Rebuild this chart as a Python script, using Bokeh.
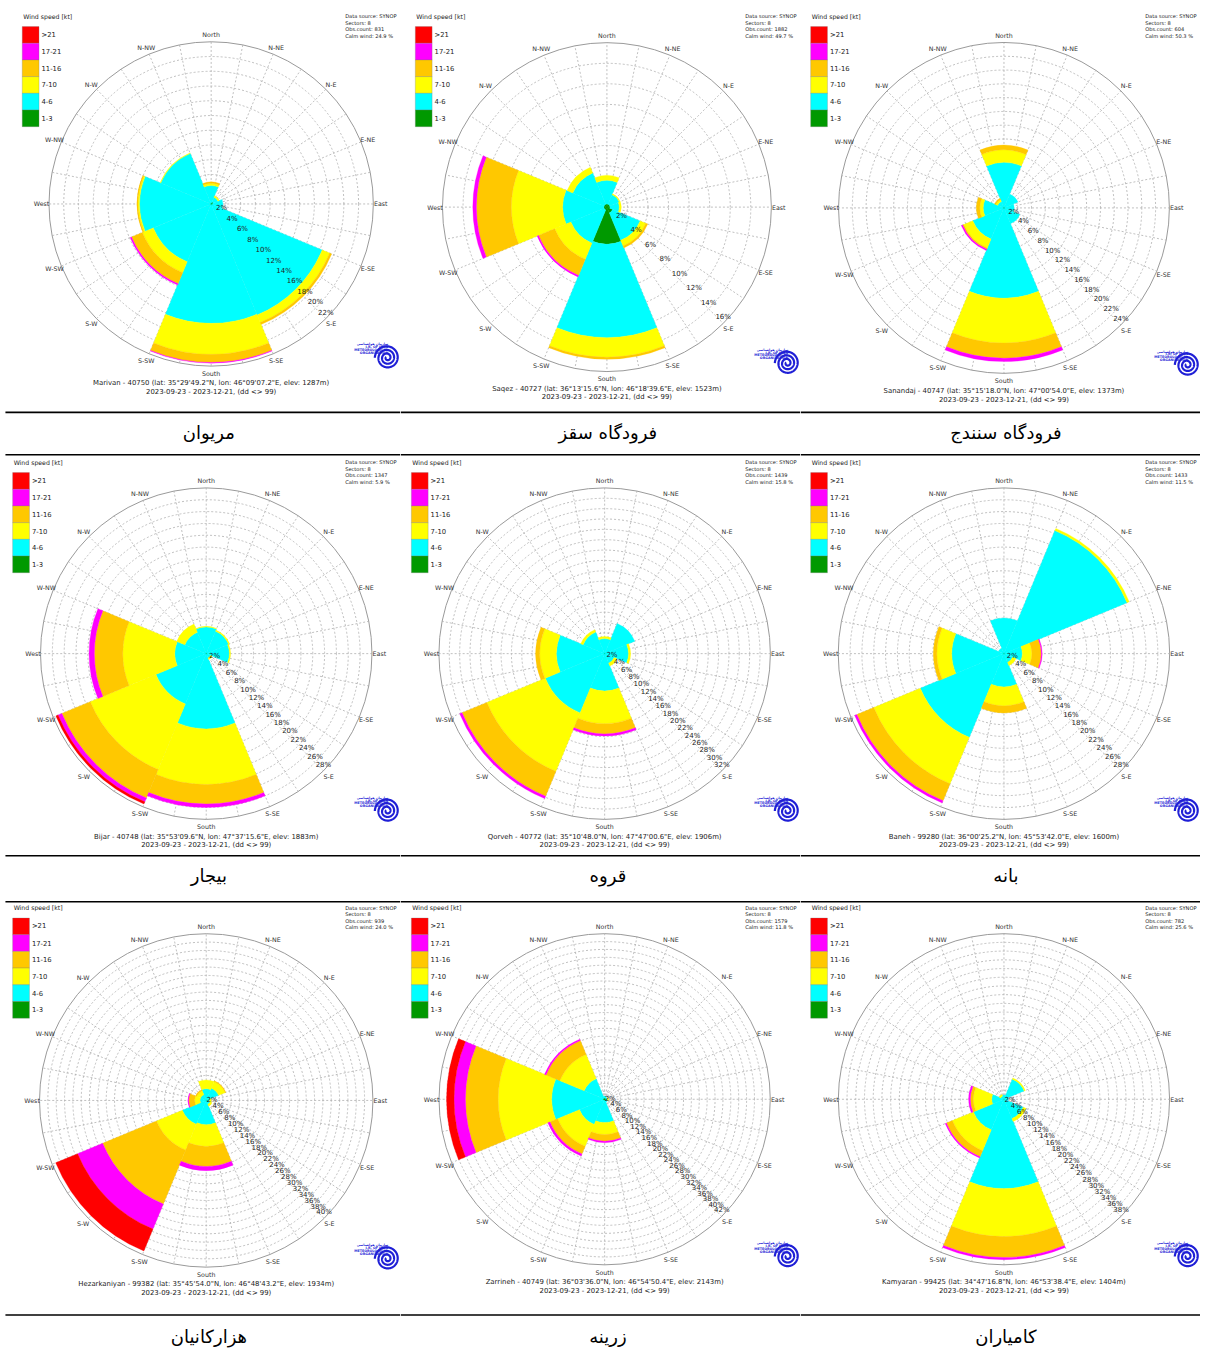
import numpy as np
from bokeh.plotting import figure
from bokeh.layouts import gridplot
from bokeh.models import Range1d, ColumnDataSource
from bokeh.core.properties import value
from bokeh.embed import file_html
from bokeh.resources import INLINE

# ---------------------------------------------------------------- data
SECTORS = ["N", "NE", "E", "SE", "S", "SW", "W", "NW"]
SECTOR_BEARING = [0, 45, 90, 135, 180, 225, 270, 315]
SPEED_CLASSES = ["1-3", "4-6", "7-10", "11-16", "17-21", ">21"]
CLASS_COLORS = ["#009900", "#00ffff", "#ffff00", "#ffc800", "#ff00ff", "#ff0000"]
LEGEND_TEXT = [">21", "17-21", "11-16", "7-10", "4-6", "1-3"]
COMPASS_LABELS = ["North", "N-NE", "N-E", "E-NE", "East", "E-SE", "S-E", "S-SE",
                  "South", "S-SW", "S-W", "W-SW", "West", "W-NW", "N-W", "N-NW"]

# frequency in % ; rows = speed classes (1-3 .. >21), columns = sectors N..NW
MARIVAN = [
    [0.1, 0.3, 0.2, 0.1, 0.1, 0.1, 0.1, 0.1],
    [2.4, 0.7, 1.4, 16.2, 16.1, 8.4, 9.6, 7.3],
    [0.3, 0.2, 0.0, 1.1, 4.2, 1.6, 0.2, 0.1],
    [0.2, 0.0, 0.0, 0.3, 1.1, 1.6, 0.15, 0.0],
    [0.0, 0.0, 0.0, 0.0, 0.1, 0.2, 0.0, 0.0],
    [0.0, 0.0, 0.0, 0.0, 0.0, 0.0, 0.0, 0.0],
]
SAQEZ = [
    [0.3, 0.3, 0.3, 0.6, 3.6, 0.3, 0.3, 0.3],
    [2.3, 1.0, 0.9, 2.9, 9.1, 3.5, 4.0, 3.3],
    [0.5, 0.1, 0.2, 0.6, 1.9, 1.7, 5.0, 0.6],
    [0.0, 0.0, 0.0, 0.2, 0.2, 1.7, 3.4, 0.0],
    [0.0, 0.0, 0.0, 0.0, 0.0, 0.15, 0.35, 0.0],
    [0.0, 0.0, 0.0, 0.0, 0.0, 0.0, 0.0, 0.0],
]
SANANDAJ = [
    [0.1, 0.1, 0.1, 0.1, 0.1, 0.1, 0.1, 0.1],
    [6.5, 2.1, 1.4, 2.4, 13.0, 4.8, 2.9, 0.9],
    [1.8, 0.0, 0.0, 0.0, 6.5, 1.4, 0.5, 0.3],
    [0.7, 0.0, 0.0, 0.0, 2.2, 0.2, 0.5, 0.2],
    [0.0, 0.0, 0.0, 0.0, 0.5, 0.2, 0.0, 0.0],
    [0.0, 0.0, 0.0, 0.0, 0.0, 0.0, 0.0, 0.0],
]
BIJAR = [
    [0.1, 0.1, 0.1, 0.1, 0.1, 0.1, 0.1, 0.1],
    [4.4, 4.0, 3.8, 0.7, 12.6, 9.1, 5.2, 3.8],
    [0.1, 0.2, 0.2, 0.3, 9.4, 12.0, 8.8, 1.5],
    [0.0, 0.0, 0.0, 0.0, 3.3, 5.2, 4.8, 0.0],
    [0.0, 0.0, 0.0, 0.0, 0.6, 0.7, 0.9, 0.0],
    [0.0, 0.0, 0.0, 0.0, 0.0, 0.4, 0.0, 0.0],
]
QORVEH = [
    [0.1, 0.1, 0.1, 0.1, 0.1, 0.1, 0.1, 0.1],
    [2.8, 6.2, 4.5, 1.9, 7.1, 12.3, 9.2, 4.4],
    [0.4, 0.0, 0.4, 0.6, 6.3, 12.2, 3.2, 0.5],
    [0.0, 0.0, 0.0, 0.0, 2.0, 5.2, 0.8, 0.0],
    [0.0, 0.0, 0.0, 0.0, 0.4, 0.5, 0.0, 0.0],
    [0.0, 0.0, 0.0, 0.0, 0.0, 0.0, 0.0, 0.0],
]
BANEH = [
    [0.1, 0.1, 0.1, 0.1, 0.1, 0.1, 0.1, 0.1],
    [5.9, 22.4, 3.0, 1.5, 5.5, 15.2, 8.7, 0.9],
    [0.0, 0.4, 1.6, 0.6, 3.2, 8.5, 2.5, 0.0],
    [0.0, 0.0, 1.6, 0.0, 1.2, 3.1, 0.6, 0.0],
    [0.0, 0.0, 0.15, 0.0, 0.0, 0.4, 0.0, 0.0],
    [0.0, 0.0, 0.0, 0.0, 0.0, 0.0, 0.0, 0.0],
]
HEZARKANIYAN = [
    [0.1, 0.1, 0.1, 0.1, 0.1, 0.1, 0.1, 0.1],
    [2.7, 3.1, 0.7, 0.9, 5.7, 6.1, 1.4, 1.4],
    [2.1, 1.7, 0.4, 0.5, 5.2, 6.7, 1.3, 1.0],
    [0.0, 0.2, 0.0, 0.0, 4.8, 14.0, 1.4, 0.3],
    [0.0, 0.0, 0.0, 0.0, 1.0, 6.5, 0.2, 0.0],
    [0.0, 0.0, 0.0, 0.0, 0.0, 5.7, 0.0, 0.0],
]
ZARRINEH = [
    [0.3, 0.3, 0.3, 0.3, 0.3, 0.3, 0.5, 0.3],
    [0.5, 0.3, 0.4, 0.5, 5.6, 6.6, 12.9, 5.3],
    [0.0, 0.0, 0.3, 0.0, 3.0, 6.0, 13.6, 6.7],
    [0.0, 0.0, 0.0, 0.0, 1.7, 2.1, 8.3, 3.8],
    [0.0, 0.0, 0.0, 0.0, 0.4, 0.6, 2.9, 0.4],
    [0.0, 0.0, 0.0, 0.0, 0.0, 0.0, 1.9, 0.0],
]
KAMYARAN = [
    [0.1, 0.1, 0.1, 0.1, 0.1, 0.1, 0.1, 0.1],
    [0.9, 4.9, 0.9, 4.7, 20.4, 7.5, 2.7, 0.7],
    [0.0, 0.3, 0.0, 0.7, 11.0, 5.2, 4.2, 0.4],
    [0.0, 0.0, 0.0, 0.0, 4.8, 1.5, 0.7, 0.0],
    [0.0, 0.0, 0.0, 0.0, 0.5, 0.3, 0.4, 0.0],
    [0.0, 0.0, 0.0, 0.0, 0.0, 0.0, 0.0, 0.0],
]

STATION_DATA = [MARIVAN, SAQEZ, SANANDAJ, BIJAR, QORVEH, BANEH, HEZARKANIYAN, ZARRINEH, KAMYARAN]
STATION_NAMES = ["Marivan", "Saqez", "Sanandaj", "Bijar", "Qorveh", "Baneh",
                 "Hezarkaniyan", "Zarrineh", "Kamyaran"]
STATION_IDS = ["40750", "40727", "40747", "40748", "40772", "99280", "99382", "40749", "99425"]
LATS = ["35\u00b029'49.2\"N", "36\u00b013'15.6\"N", "35\u00b015'18.0\"N", "35\u00b053'09.6\"N",
        "35\u00b010'48.0\"N", "36\u00b000'25.2\"N", "35\u00b045'54.0\"N", "36\u00b003'36.0\"N",
        "34\u00b047'16.8\"N"]
LONS = ["46\u00b009'07.2\"E", "46\u00b018'39.6\"E", "47\u00b000'54.0\"E", "47\u00b037'15.6\"E",
        "47\u00b047'00.6\"E", "45\u00b053'42.0\"E", "46\u00b048'43.2\"E", "46\u00b054'50.4\"E",
        "46\u00b053'38.4\"E"]
ELEVS = [1287, 1523, 1373, 1883, 1906, 1600, 1934, 2143, 1404]
OBS_COUNTS = [831, 1882, 604, 1347, 1439, 1433, 939, 1579, 782]
CALM_WIND = [24.9, 49.7, 50.3, 5.9, 15.8, 11.5, 24.0, 11.8, 25.6]
RING_MAX = [22, 16, 24, 28, 32, 28, 40, 42, 38]
PERSIAN_NAMES = ["\u0645\u0631\u06cc\u0648\u0627\u0646",
                 "\u0641\u0631\u0648\u062f\u06af\u0627\u0647 \u0633\u0642\u0632",
                 "\u0641\u0631\u0648\u062f\u06af\u0627\u0647 \u0633\u0646\u0646\u062f\u062c",
                 "\u0628\u06cc\u062c\u0627\u0631",
                 "\u0642\u0631\u0648\u0647",
                 "\u0628\u0627\u0646\u0647",
                 "\u0647\u0632\u0627\u0631\u06a9\u0627\u0646\u06cc\u0627\u0646",
                 "\u0632\u0631\u06cc\u0646\u0647",
                 "\u06a9\u0627\u0645\u06cc\u0627\u0631\u0627\u0646"]
PERIOD = "2023-09-23 - 2023-12-21, (dd <> 99)"

# ---------------------------------------------------------------- layout (reference pixel frame)
K = 400.0 / 405.0
COL_W = 405.0
ROW_H = 450.0 / K
CENTERS = [(213.3, 206.0), (614.0, 209.2), (1016.0, 210.0),
           (208.3, 661.3), (611.7, 661.3), (1016.0, 661.3),
           (208.3, 1113.7), (611.7, 1112.5), (1016.0, 1112.5)]
LABEL_R = [171.7, 174.0, 175.0, 175.3, 175.3, 175.3, 176.3, 175.2, 175.2]
LEGEND_X = [22.0, 420.0, 820.3, 12.3, 416.0, 820.3, 12.3, 416.0, 820.3]
HEADER_Y = [15.7, 15.7, 15.7, 467.3, 467.3, 467.3, 918.3, 918.3, 918.3]
INFO_X = [354.0, 756.7, 1159.7, 351.7, 755.0, 1159.7, 352.7, 755.7, 1159.7]
TITLE_Y = [387.3, 393.3, 395.7, 846.7, 846.7, 846.7, 1300.0, 1297.7, 1297.7]
CAPTION_X = [211.0, 615.0, 1018.0]
CAPTION_Y = [437.0, 886.0, 1353.0]
RULES_Y = [[417.0], [460.0, 866.0], [912.5, 1331.0]]

FONT = value("DejaVu Sans")
TXT = "#222222"


def make_panel(i):
    r, c = divmod(i, 3)
    x0, x1 = c * COL_W, (c + 1) * COL_W
    y0, y1 = r * ROW_H, (r + 1) * ROW_H
    p = figure(width=400, height=450, x_range=Range1d(x0, x1), y_range=Range1d(y1, y0),
               output_backend="svg", toolbar_location=None, min_border=0,
               x_axis_location=None, y_axis_location=None, outline_line_color=None,
               background_fill_color="white", border_fill_color="white")
    p.grid.grid_line_color = None

    cx, cy = CENTERS[i]
    L = LABEL_R[i]
    R = L - 7.5
    rmax = RING_MAX[i]
    u = R / rmax
    p.extra_x_ranges = {"pct": Range1d((x0 - cx) / u, (x1 - cx) / u)}
    p.extra_y_ranges = {"pct": Range1d((cy - y1) / u, (cy - y0) / u)}
    pr = dict(x_range_name="pct", y_range_name="pct")

    # grid
    rings = list(range(2, rmax, 2))
    p.arc(x=[0] * len(rings), y=[0] * len(rings), radius=rings, start_angle=0,
          end_angle=2 * np.pi, line_color="#b0b0b0", line_width=0.8, line_dash="2 2", **pr)
    brg = np.radians(np.arange(0, 360, 11.25))
    p.segment(x0=np.zeros(len(brg)), y0=np.zeros(len(brg)), x1=rmax * np.sin(brg),
              y1=rmax * np.cos(brg), line_color="#b0b0b0", line_width=0.8, line_dash="2 2", **pr)
    p.arc(x=[0], y=[0], radius=[rmax], start_angle=0, end_angle=2 * np.pi,
          line_color="#9a9a9a", line_width=1.0, **pr)

    # wedges
    vals = np.array(STATION_DATA[i], dtype=float)
    cum = np.cumsum(vals, axis=0)
    inner = cum - vals
    rec = dict(inner=[], outer=[], start=[], end=[], color=[])
    for k in range(len(SPEED_CLASSES)):
        for j, b in enumerate(SECTOR_BEARING):
            if vals[k, j] <= 0:
                continue
            rec["inner"].append(inner[k, j])
            rec["outer"].append(cum[k, j])
            rec["start"].append(np.radians(90 - b - 22.5))
            rec["end"].append(np.radians(90 - b + 22.5))
            rec["color"].append(CLASS_COLORS[k])
    p.annular_wedge(x=0, y=0, inner_radius="inner", outer_radius="outer",
                    start_angle="start", end_angle="end", fill_color="color",
                    line_color="color", line_width=0.3, source=ColumnDataSource(rec), **pr)

    # percent labels along SE
    pv = np.arange(2, rmax + 1, 2)
    p.text(x=pv * 0.7071, y=-pv * 0.7071 + 6.0 / u, text=[f"{v}%" for v in pv],
           text_align="center", text_baseline="middle", text_font=FONT,
           text_font_size="7px", text_color=TXT, **pr)

    # compass labels
    cb = np.radians(np.arange(16) * 22.5)
    p.text(x=cx + L * np.sin(cb), y=cy - L * np.cos(cb), text=COMPASS_LABELS,
           text_align="center", text_baseline="middle", text_font=FONT,
           text_font_size="6.3px", text_color="#333333")

    # legend
    bx = LEGEND_X[i]
    hy = HEADER_Y[i]
    p.text(x=[bx + 1], y=[hy], text=["Wind speed [kt]"], text_align="left",
           text_baseline="middle", text_font=FONT, text_font_size="6.2px", text_color=TXT)
    tops = hy + 10.7 + 16.9 * np.arange(6)
    p.quad(left=bx, right=bx + 17, top=tops, bottom=tops + 16.9,
           fill_color=CLASS_COLORS[::-1], line_color="#7a7a7a", line_width=0.3)
    p.text(x=[bx + 19.5] * 6, y=tops + 8.45, text=LEGEND_TEXT, text_align="left",
           text_baseline="middle", text_font=FONT, text_font_size="6.8px", text_color=TXT)

    # info block (kept inside the panel)
    info = ["Data source: SYNOP", "Sectors: %d" % len(SECTORS),
            "Obs.count: %d" % OBS_COUNTS[i], "Calm wind: %.1f %%" % CALM_WIND[i]]
    ix = min(INFO_X[i], x1 - 56.0)
    p.text(x=[ix] * 4, y=hy + np.array([0.3, 6.9, 13.3, 19.8]), text=info,
           text_align="left", text_baseline="middle", text_font=FONT,
           text_font_size="5.1px", text_color=TXT)

    # station title
    t1 = "%s - %s (lat: %s, lon: %s, elev: %dm)" % (STATION_NAMES[i], STATION_IDS[i],
                                                     LATS[i], LONS[i], ELEVS[i])
    p.text(x=[cx, cx], y=[TITLE_Y[i], TITLE_Y[i] + 8.6], text=[t1, PERIOD],
           text_align="center", text_baseline="middle", text_font=FONT,
           text_font_size="6.9px", text_color=TXT)

    # logo
    lx, ly = min(cx + L + 11.5, x1 - 13.5), cy + L - 16.0
    t = np.linspace(0, 2 * np.pi * 3.1, 400)
    rr = 12.5 * (1 - t / (2 * np.pi * 3.4))
    p.line(lx + rr * np.cos(t + np.pi), ly + rr * np.sin(t + np.pi),
           line_color="#1f1fd6", line_width=2.2)
    p.text(x=[lx + 1] * 4, y=ly + np.array([-13.5, -10.6, -7.8, -5.0]),
           text=["\u0633\u0627\u0632\u0645\u0627\u0646 \u0647\u0648\u0627\u0634\u0646\u0627\u0633\u06cc",
                 "I.R. OF IRAN", "METEOROLOGICAL", "ORGANIZATION"],
           text_align="right", text_baseline="middle", text_font=FONT,
           text_font_size="3.3px", text_color="#1f1fd6", text_font_style="bold")

    # table rules and captions
    for ry in RULES_Y[r]:
        p.segment(x0=[max(x0, 5.0)], y0=[ry], x1=[x1], y1=[ry], line_color="black", line_width=1.6)
    p.text(x=[CAPTION_X[c]], y=[CAPTION_Y[r]], text=[PERSIAN_NAMES[i]], text_align="center",
           text_baseline="middle", text_font=FONT, text_font_size="18px", text_color="black")
    return p


panels = [make_panel(i) for i in range(9)]
grid = gridplot([panels[0:3], panels[3:6], panels[6:9]], toolbar_location=None)

with open("out.html", "w") as f:
    f.write(file_html(grid, INLINE))
